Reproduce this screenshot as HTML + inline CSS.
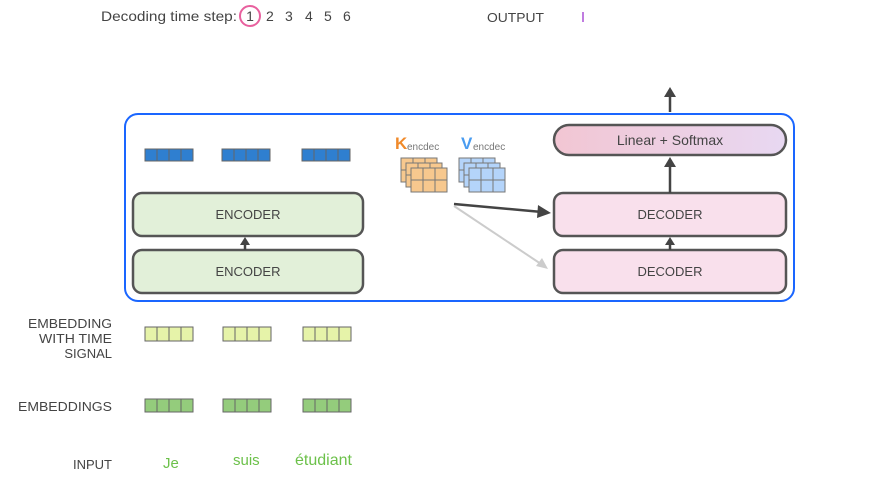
<!DOCTYPE html>
<html><head><meta charset="utf-8"><style>
html,body{margin:0;padding:0;background:#fff;}
svg{display:block;font-family:"Liberation Sans",sans-serif;}
</style></head><body>
<svg width="876" height="492" viewBox="0 0 876 492" xmlns="http://www.w3.org/2000/svg">
<defs>
<linearGradient id="ls" x1="0" x2="1" y1="0" y2="0"><stop offset="0" stop-color="#f2c6d3"/><stop offset="1" stop-color="#e8d8f2"/></linearGradient>
</defs>
<text x="101" y="21" font-size="14" fill="#444" textLength="136" lengthAdjust="spacingAndGlyphs">Decoding time step:</text>
<circle cx="250" cy="16" r="10" fill="none" stroke="#e8609e" stroke-width="2"/>
<text x="250" y="21" font-size="14" fill="#444" text-anchor="middle">1</text>
<text x="266" y="21" font-size="14" fill="#444">2</text>
<text x="285" y="21" font-size="14" fill="#444">3</text>
<text x="305" y="21" font-size="14" fill="#444">4</text>
<text x="324" y="21" font-size="14" fill="#444">5</text>
<text x="343" y="21" font-size="14" fill="#444">6</text>
<text x="487" y="22" font-size="13" fill="#444" textLength="57" lengthAdjust="spacingAndGlyphs">OUTPUT</text>
<rect x="582" y="12" width="2" height="10" fill="#c07ce0"/>

<rect x="125" y="114" width="669" height="187" rx="13" fill="none" stroke="#1a66ff" stroke-width="2"/>
<line x1="670" y1="112" x2="670" y2="95" stroke="#444" stroke-width="2.5"/>
<path d="M664,97 L670,87 L676,97 z" fill="#444"/>

<g stroke="#666" stroke-width="1">
<g fill="#2f7fd0">
<rect x="145" y="149" width="48" height="12"/><rect x="222" y="149" width="48" height="12"/><rect x="302" y="149" width="48" height="12"/>
</g>
<g fill="#e6f3a9">
<rect x="145" y="327" width="48" height="14"/><rect x="223" y="327" width="48" height="14"/><rect x="303" y="327" width="48" height="14"/>
</g>
<g fill="#94cc7c">
<rect x="145" y="399" width="48" height="13"/><rect x="223" y="399" width="48" height="13"/><rect x="303" y="399" width="48" height="13"/>
</g>
<path d="M157,149v12M169,149v12M181,149v12M234,149v12M246,149v12M258,149v12M314,149v12M326,149v12M338,149v12
M157,327v14M169,327v14M181,327v14M235,327v14M247,327v14M259,327v14M315,327v14M327,327v14M339,327v14
M157,399v13M169,399v13M181,399v13M235,399v13M247,399v13M259,399v13M315,399v13M327,399v13M339,399v13" fill="none"/>
</g>

<text x="395" y="149" font-size="17" font-weight="bold" fill="#f08a2a">K</text>
<text x="407" y="150" font-size="10" fill="#777">encdec</text>
<text x="461" y="149" font-size="17" font-weight="bold" fill="#4a9cf0">V</text>
<text x="473" y="150" font-size="10" fill="#777">encdec</text>
<g stroke="#777" stroke-width="1">
<g fill="#f7c88e">
<rect x="401" y="158" width="36" height="24"/><rect x="406" y="163" width="36" height="24"/><rect x="411" y="168" width="36" height="24"/>
</g>
<path d="M413,158v5M425,158v5M401,170h5M418,163v5M430,163v5M406,175h5M423,168v24M435,168v24M411,180h36" fill="none"/>
<g fill="#b4d4fa">
<rect x="459" y="158" width="36" height="24"/><rect x="464" y="163" width="36" height="24"/><rect x="469" y="168" width="36" height="24"/>
</g>
<path d="M471,158v5M483,158v5M459,170h5M476,163v5M488,163v5M464,175h5M481,168v24M493,168v24M469,180h36" fill="none"/>
</g>

<g stroke="#555" stroke-width="2.5">
<rect x="133" y="193" width="230" height="43" rx="9" fill="#e2f0d9"/>
<rect x="133" y="250" width="230" height="43" rx="9" fill="#e2f0d9"/>
<rect x="554" y="193" width="232" height="43" rx="9" fill="#f9e0ec"/>
<rect x="554" y="250" width="232" height="43" rx="9" fill="#f9e0ec"/>
<rect x="554" y="125" width="232" height="30" rx="15" fill="url(#ls)"/>
</g>
<g font-size="13" fill="#444" text-anchor="middle">
<text x="248" y="219">ENCODER</text>
<text x="248" y="276">ENCODER</text>
<text x="670" y="219">DECODER</text>
<text x="670" y="276">DECODER</text>
<text x="670" y="145" font-size="14">Linear + Softmax</text>
</g>
<line x1="245" y1="250" x2="245" y2="243" stroke="#444" stroke-width="2.5"/>
<path d="M240,245 L245,237 L250,245 z" fill="#444"/>
<line x1="670" y1="250" x2="670" y2="243" stroke="#444" stroke-width="2.5"/>
<path d="M665,245 L670,237 L675,245 z" fill="#444"/>
<line x1="670" y1="193" x2="670" y2="165" stroke="#444" stroke-width="2.5"/>
<path d="M664,167 L670,157 L676,167 z" fill="#444"/>
<line x1="454" y1="204" x2="542" y2="212" stroke="#444" stroke-width="2.5"/>
<path d="M538,205 L551,213 L537,218 z" fill="#444"/>
<line x1="454" y1="206" x2="541" y2="264" stroke="#ccc" stroke-width="2"/>
<path d="M536,266 L548,269 L542,258 z" fill="#ccc"/>

<g font-size="13" fill="#444" text-anchor="end">
<text x="112" y="328" textLength="84" lengthAdjust="spacingAndGlyphs">EMBEDDING</text>
<text x="112" y="343" textLength="73" lengthAdjust="spacingAndGlyphs">WITH TIME</text>
<text x="112" y="358">SIGNAL</text>
<text x="112" y="411" textLength="94" lengthAdjust="spacingAndGlyphs">EMBEDDINGS</text>
<text x="112" y="469">INPUT</text>
</g>
<g font-size="15" fill="#6cc14a">
<text x="163" y="468">Je</text>
<text x="233" y="465">suis</text>
<text x="295" y="465" font-size="16">étudiant</text>
</g>
</svg>
</body></html>
